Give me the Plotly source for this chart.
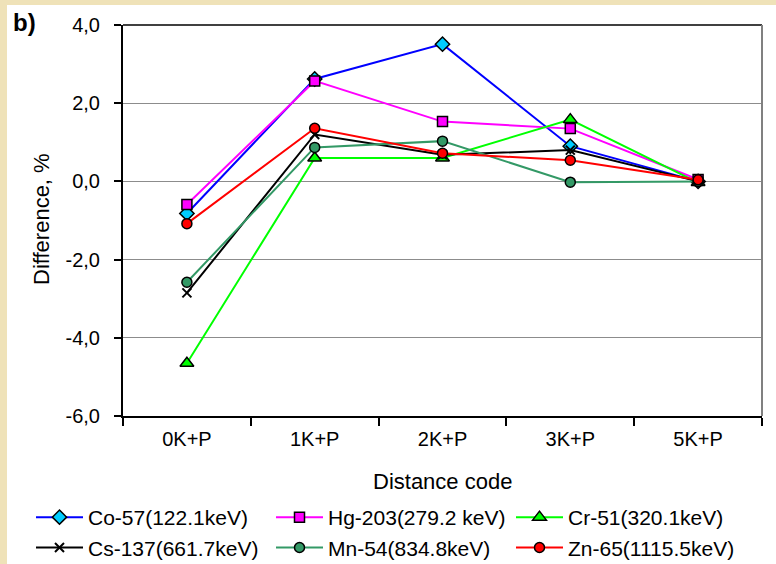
import plotly.graph_objects as go

categories = ["0K+P", "1K+P", "2K+P", "3K+P", "5K+P"]
co57 = [-0.82, 2.62, 3.51, 0.90, 0.00]
hg203 = [-0.59, 2.57, 1.53, 1.35, 0.05]
cr51 = [-4.65, 0.60, 0.60, 1.58, -0.03]
cs137 = [-2.85, 1.20, 0.68, 0.80, 0.00]
mn54 = [-2.58, 0.87, 1.03, -0.02, 0.00]
zn65 = [-1.08, 1.36, 0.72, 0.54, 0.04]

y_tick_values = [-6, -4, -2, 0, 2, 4]
y_tick_labels = ["-6,0", "-4,0", "-2,0", "0,0", "2,0", "4,0"]

names = ["Co-57(122.1keV)", "Hg-203(279.2 keV)", "Cr-51(320.1keV)",
         "Cs-137(661.7keV)", "Mn-54(834.8keV)", "Zn-65(1115.5keV)"]
series = [co57, hg203, cr51, cs137, mn54, zn65]
line_colors = ["#0000FF", "#FF00FF", "#00FF00", "#000000", "#339966", "#FF0000"]
fill_colors = ["#00CCFF", "#FF00FF", "#00FF00", "#000000", "#339966", "#FF0000"]
symbols = ["diamond", "square", "triangle-up", "x-thin", "circle", "circle"]
sizes = [11, 10, 12, 9, 10, 10]

FONT = "Liberation Sans, Arial, sans-serif"
W, H = 776, 564
L, R, T, B = 123, 14, 25, 148
PW, PH = W - L - R, H - T - B

def px(x):
    return (x - L) / PW

def py(y):
    return (H - B - y) / PH

fig = go.Figure()
for n, s, lc, fc, sym, sz in zip(names, series, line_colors, fill_colors, symbols, sizes):
    if sym == "x-thin":
        marker = dict(symbol=sym, size=sz, color=lc, line=dict(color="#000000", width=2))
    else:
        marker = dict(symbol=sym, size=sz, color=fc, line=dict(color="#000000", width=1.5))
    fig.add_trace(go.Scatter(x=categories, y=s, name=n, mode="lines+markers",
                             line=dict(color=lc, width=2), marker=marker))

fig.update_layout(
    width=W, height=H,
    margin=dict(l=L, r=R, t=T, b=B, pad=0, autoexpand=False),
    paper_bgcolor="#EFE2B8",
    plot_bgcolor="#FFFFFF",
    separators=",.",
    font=dict(family=FONT, size=20, color="#000000"),
    showlegend=True,
    legend=dict(orientation="h", x=px(31), y=py(497), xanchor="left", yanchor="top",
                entrywidth=178, entrywidthmode="pixels", bgcolor="rgba(0,0,0,0)",
                font=dict(family=FONT, size=21), itemwidth=47, tracegroupgap=0),
    xaxis=dict(type="category", range=[-0.5, 4.5], showline=True, linecolor="#000000",
               linewidth=2, ticks="outside", ticklen=8, tickwidth=2, tickcolor="#000000",
               tickson="boundaries", showgrid=False, zeroline=False,
               tickfont=dict(family=FONT, size=20), ticklabelstandoff=4),
    yaxis=dict(range=[-6, 4], tickmode="array", tickvals=y_tick_values, ticktext=y_tick_labels,
               showline=True, linecolor="#000000", linewidth=2, ticks="outside",
               ticklen=7, tickwidth=2, tickcolor="#000000", showgrid=True,
               gridcolor="#8C8C8C", gridwidth=1, zeroline=False,
               tickfont=dict(family=FONT, size=20), ticklabelstandoff=10),
    shapes=[
        dict(type="rect", xref="paper", yref="paper", x0=px(7), x1=px(780), y0=py(570), y1=py(5),
             fillcolor="#FFFFFF", line=dict(width=0), layer="below"),
        dict(type="line", xref="paper", yref="paper", x0=0, x1=1, y0=1, y1=1,
             line=dict(color="#000000", width=1.5)),
        dict(type="line", xref="paper", yref="paper", x0=1, x1=1, y0=0, y1=1,
             line=dict(color="#808080", width=2)),
    ],
    annotations=[
        dict(text="<b>b)</b>", xref="paper", yref="paper", x=px(24), y=py(23),
             xanchor="center", yanchor="middle", showarrow=False, font=dict(family=FONT, size=24)),
        dict(text="Difference, %", xref="paper", yref="paper", x=px(41), y=py(219),
             xanchor="center", yanchor="middle", showarrow=False, textangle=-90,
             font=dict(family=FONT, size=22)),
        dict(text="Distance code", xref="paper", yref="paper", x=px(442), y=py(481),
             xanchor="center", yanchor="middle", showarrow=False, font=dict(family=FONT, size=22)),
    ],
)

fig.write_html("out.html")
